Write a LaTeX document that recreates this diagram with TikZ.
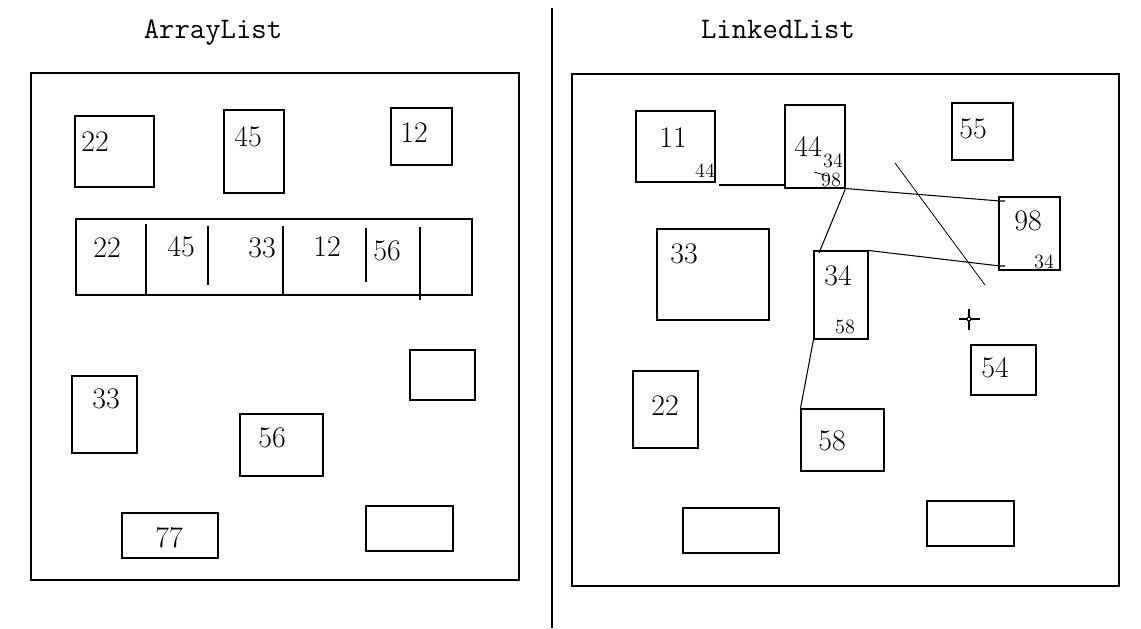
\documentclass[tikz,border=0pt]{standalone}
\usetikzlibrary{fit}
\tikzset{
  frame/.style = {draw, line width=0.6pt, inner sep=0pt},
  cell/.style  = {draw, line width=0.6pt, inner sep=0pt},
  num/.style   = {font=\fontsize{17}{20}\selectfont, inner sep=0pt},
  small/.style = {font=\fontsize{11.5}{14}\selectfont, inner sep=0pt},
  title/.style = {font=\ttfamily\fontsize{17}{20}\selectfont, inner sep=0pt},
  link/.style  = {line width=0.6pt},
  thin/.style  = {line width=0.45pt}
}

\begin{document}
\begin{tikzpicture}[x=0.02cm, y=-0.02cm]
\useasboundingbox (0,0) rectangle (1141,628);

% titles and divider
\node[title] (tarr) at (213,33) {ArrayList};
\node[title] (tlnk) at (778,29) {LinkedList};
\draw[link] (552,8) -- (552,628);

% ArrayList side
\node[frame, fit={(31,73) (519,580)}] (afrm) {};
\node[cell, fit={(75,116) (154,187)}] (a22) {};
\node[num] (na22) at (95,142) {22};
\node[cell, fit={(224,110) (284,193)}] (a45) {};
\node[num] (na45) at (248,137) {45};
\node[cell, fit={(391,108) (452,165)}] (a12) {};
\node[num] (na12) at (414,133) {12};

\node[cell, fit={(76,219) (472,295)}] (arr) {};
\draw[link] (146,224) -- (146,295);
\draw[link] (208,226) -- (208,285);
\draw[link] (283,226) -- (283,295);
\draw[link] (366,228) -- (366,282);
\draw[link] (420,227) -- (420,300);
\node[num] (e1) at (107,248) {22};
\node[num] (e2) at (181,247) {45};
\node[num] (e3) at (262,248) {33};
\node[num] (e4) at (327,247) {12};
\node[num] (e5) at (387,251) {56};

\node[cell, fit={(72,376) (137,453)}] (a33) {};
\node[num] (na33) at (106,399) {33};
\node[cell, fit={(240,414) (323,476)}] (a56) {};
\node[num] (na56) at (272,438) {56};
\node[cell, fit={(410,350) (475,400)}] (aem1) {};
\node[cell, fit={(122,513) (218,558)}] (a77) {};
\node[num] (na77) at (169,538) {77};
\node[cell, fit={(366,506) (453,551)}] (aem2) {};

% LinkedList side
\node[frame, fit={(572,74) (1119,586)}] (lfrm) {};
\node[cell, fit={(636,111) (715,182)}] (l11) {};
\node[num] (nl11) at (673,138) {11};
\node[small] (pl11) at (705,171) {44};
\node[cell, fit={(785,105) (845,188)}] (l44) {};
\node[num] (nl44) at (808,147) {44};
\node[small] (pl44a) at (833,161) {34};
\node[small] (pl44b) at (831,180) {98};
\node[cell, fit={(952,103) (1013,160)}] (l55) {};
\node[num] (nl55) at (973,129) {55};
\node[cell, fit={(999,197) (1060,270)}] (l98) {};
\node[num] (nl98) at (1028,221) {98};
\node[small] (pl98) at (1044,262) {34};
\node[cell, fit={(657,229) (769,320)}] (l33) {};
\node[num] (nl33) at (684,254) {33};
\node[cell, fit={(814,251) (868,339)}] (l34) {};
\node[num] (nl34) at (838,276) {34};
\node[small] (pl34) at (845,327) {58};
\node[cell, fit={(633,371) (698,448)}] (l22) {};
\node[num] (nl22) at (665,406) {22};
\node[cell, fit={(971,345) (1036,395)}] (l54) {};
\node[num] (nl54) at (995,368) {54};
\node[cell, fit={(801,409) (884,471)}] (l58) {};
\node[num] (nl58) at (832,441) {58};
\node[cell, fit={(683,508) (779,553)}] (lem1) {};
\node[cell, fit={(927,501) (1014,546)}] (lem2) {};

% links
\coordinate (p11) at (719,185);
\coordinate (q98a) at (1000,201);
\coordinate (q98b) at (1000,266);
\coordinate (q34) at (819,253);
\draw[link] (p11) -- (p11 -| l44.west);
\draw[link] (l44.south east) -- (q98a) -- ++(5,0);
\draw[link] (l44.south east) -- (q34);
\draw[link] (l34.north east) -- (q98b) -- ++(5,0);
\draw[link] (l34.south west) -- (l58.north west);
\draw[thin] (814,172) -- (828,176);
\draw[thin] (895,163) -- (985,285);

% cursor mark
\draw[link] (959,319) -- (980,319);
\draw[link] (969,309) -- (969,330);
\draw[link, fill=white] (969,319) circle (2);
\end{tikzpicture}
\end{document}
